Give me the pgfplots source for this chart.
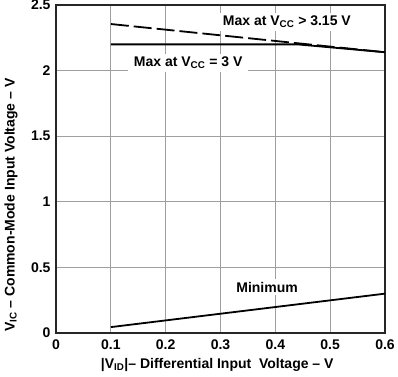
\documentclass[border=0pt]{standalone}
\usepackage{pgfplots}
\pgfplotsset{compat=1.18}
\usepackage{fontspec}
\setmainfont{Liberation Sans}
\begin{document}
\begin{tikzpicture}[font=\fontsize{14}{16}\selectfont\bfseries]
\begin{axis}[
  scale only axis, width=329pt, height=328pt,
  xmin=0, xmax=0.6, ymin=0, ymax=2.5,
  xtick={0,0.1,0.2,0.3,0.4,0.5,0.6},
  xticklabels={0,0.1,0.2,0.3,0.4,0.5,0.6},
  ytick={0,0.5,1,1.5,2,2.5},
  yticklabels={0,0.5,1,1.5,2,2.5},
  major tick length=0pt,
  grid=major,
  major grid style={gray!75, line width=0.8pt},
  axis line style={line width=1.3pt, black!85},
  xticklabel style={yshift=-3pt},
  yticklabel style={xshift=-2pt},
  xlabel={|V\textsubscript{ID}|-- Differential Input~ Voltage -- V},
  xlabel style={at={(axis description cs:0.49,-0.097)}, anchor=center},
  ylabel={V\textsubscript{IC} -- Common-Mode Input Voltage -- V},
  ylabel style={at={(axis description cs:-0.137,0.39)}, anchor=center, rotate=0},
]
\addplot[black, line width=1.8pt, dash pattern=on 18pt off 5pt] coordinates {(0.1,2.355) (0.6,2.14)};
\addplot[black, line width=1.8pt] coordinates {(0.1,2.2) (0.44,2.2) (0.6,2.14)};
\addplot[black, line width=1.8pt] coordinates {(0.1,0.045) (0.6,0.30)};
\node[fill=white, inner xsep=6pt, inner ysep=3pt] at (axis cs:0.421,2.37) {Max at V\textsubscript{CC} > 3.15 V};
\node[fill=white, inner xsep=6pt, inner ysep=3pt] at (axis cs:0.241,2.06) {Max at V\textsubscript{CC} = 3 V};
\node[fill=white, inner xsep=6pt, inner ysep=3pt] at (axis cs:0.385,0.35) {Minimum};
\end{axis}
\pgfresetboundingbox
\path[use as bounding box] (-56pt,-43pt) rectangle (342pt,333pt);
\end{tikzpicture}
\end{document}
